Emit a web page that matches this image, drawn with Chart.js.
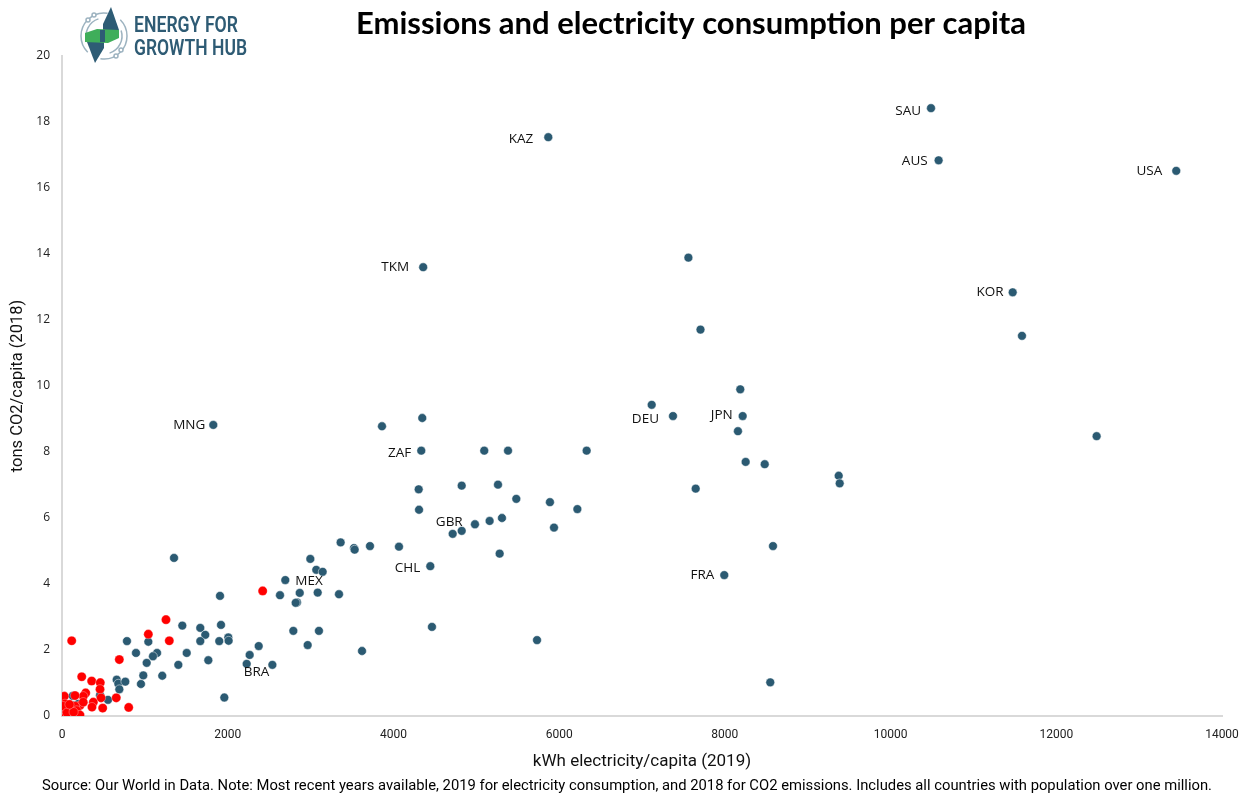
<!DOCTYPE html>
<html>
<head>
<meta charset="utf-8">
<script src="https://cdn.jsdelivr.net/npm/chart.js@4.4.1/dist/chart.umd.min.js"></script>
<style>
  html, body { margin: 0; padding: 0; background: #fff; }
  #wrap { width: 1259px; height: 795px; position: relative; }
</style>
</head>
<body>
<div id="wrap"><canvas id="c" width="1259" height="795"></canvas></div>
<script>
// ---------- DATA ----------
const chartTitle = 'Emissions and electricity consumption per capita';
const footnote = 'Source: Our World in Data. Note: Most recent years available, 2019 for electricity consumption, and 2018 for CO2 emissions. Includes all countries with population over one million.';
const xAxisTitle = 'kWh electricity/capita (2019)';
const yAxisTitle = 'tons CO2/capita (2018)';
const xTickValues = [0, 2000, 4000, 6000, 8000, 10000, 12000, 14000];
const yTickValues = [0, 2, 4, 6, 8, 10, 12, 14, 16, 18, 20];

// labelled countries (first entries of the blue series)
const countryCodes = ['SAU','AUS','USA','KAZ','TKM','KOR','MNG','ZAF','DEU','JPN','GBR','CHL','MEX','FRA','BRA'];

const blueX = [
  10488, 10580, 13448, 5869, 4359, 11474, 1826, 4336, 7374, 8215, 4824, 4445, 2695, 7993, 2229,
  7560, 7706, 11586, 8186, 7117, 8158, 12487, 8251, 8481, 9374, 9386, 7648, 8581, 8548,
  6332, 3862, 4348, 5096, 5383, 4305, 4824, 5262, 5483, 5889, 6220, 4309, 4984, 5161, 5310,
  4715, 5938, 5282, 3363, 3524, 3532, 3717, 4067, 2997, 3069, 3146, 2631, 2869, 3086, 3343,
  2836, 2820, 2792, 3101, 2965, 2374, 2265, 2539, 4465, 5733, 3621, 1959, 1352, 1907, 1452,
  1669, 1729, 1669, 1919, 1898, 2007, 2011, 1766, 1505, 1404, 1210, 1147, 1098, 1022, 953,
  981, 893, 784, 1042, 660, 680, 764, 692, 555, 129, 145, 197, 459
];
const blueY = [
  18.42, 16.84, 16.52, 17.54, 13.60, 12.84, 8.82, 8.04, 9.09, 9.09, 5.61, 4.54, 4.12, 4.27, 1.58,
  13.89, 11.71, 11.52, 9.90, 9.43, 8.63, 8.48, 7.70, 7.63, 7.28, 7.05, 6.89, 5.15, 1.02,
  8.04, 8.78, 9.03, 8.04, 8.04, 6.87, 6.98, 7.01, 6.58, 6.48, 6.27, 6.25, 5.81, 5.91, 6.00,
  5.52, 5.71, 4.92, 5.26, 5.09, 5.04, 5.15, 5.13, 4.76, 4.43, 4.37, 3.66, 3.73, 3.74, 3.69,
  3.44, 3.43, 2.58, 2.58, 2.15, 2.12, 1.85, 1.55, 2.70, 2.30, 1.97, 0.56, 4.79, 3.64, 2.74,
  2.67, 2.46, 2.27, 2.76, 2.27, 2.38, 2.28, 1.69, 1.91, 1.55, 1.22, 1.91, 1.81, 1.61, 0.97,
  1.23, 1.91, 2.27, 2.25, 1.10, 0.98, 1.04, 0.81, 0.49, 0.61, 0.32, 0.37, 0.63
];

const redX = [
  2422, 1255, 1042, 1295, 692, 117, 238, 358, 462, 459, 471, 286, 257, 157, 28, 655, 805, 491,
  378, 362, 217, 36, 157, 257, 5, 97, 177, 36, 117, 217, 5, 72, 12, 60, 140, 90
];
const redY = [
  3.79, 2.92, 2.48, 2.28, 1.71, 2.28, 1.19, 1.06, 1.01, 0.81, 0.55, 0.70, 0.60, 0.62, 0.60, 0.55, 0.26, 0.24,
  0.42, 0.27, 0.32, 0.37, 0.30, 0.42, 0.12, 0.07, 0.17, 0.03, 0.03, 0.03, 0.22, 0.24, 0.30, 0.10, 0.12, 0.35
];

// ---------- STYLE ----------
const BLUE = '#2B5A72';
const RED = '#FF0000';
// label offsets relative to its point: [dx, dy, align]
const labelOffsets = {
  SAU: [-10, 3, 'right'], AUS: [-11, 1, 'right'], USA: [-14, 0, 'right'], KAZ: [-15, 2, 'right'],
  TKM: [-14, 0, 'right'], KOR: [-9, 0, 'right'], MNG: [-8, 0, 'right'], ZAF: [-10, 2, 'right'],
  DEU: [-14, 3, 'right'], JPN: [-10, -1, 'right'], GBR: [1, -9, 'right'], CHL: [-10, 2, 'right'],
  MEX: [10, 1, 'left'], FRA: [-10, 0, 'right'], BRA: [-3, 8, 'left']
};

const toPts = (xs, ys) => xs.map((x, i) => ({ x: x, y: ys[i] }));

const labelPlugin = {
  id: 'countryLabels',
  afterDatasetsDraw(chart) {
    const meta = chart.getDatasetMeta(1);
    const ctx = chart.ctx;
    ctx.save();
    ctx.font = '13.5px "Open Sans", "Noto Sans", sans-serif';
    ctx.fillStyle = '#111';
    ctx.textBaseline = 'middle';
    countryCodes.forEach((code, i) => {
      const el = meta.data[i];
      if (!el) return;
      const o = labelOffsets[code];
      ctx.textAlign = o[2];
      ctx.fillText(code, el.x + o[0], el.y + o[1]);
    });
    ctx.restore();
  }
};

const decorPlugin = {
  id: 'decor',
  afterDraw(chart) {
    const ctx = chart.ctx;
    ctx.save();
    // title
    ctx.fillStyle = '#000';
    ctx.font = 'bold 31px "Lato", "Noto Sans", sans-serif';
    ctx.textAlign = 'center';
    ctx.textBaseline = 'alphabetic';
    ctx.fillText(chartTitle, 691, 34, 686);
    // footnote
    ctx.font = '15px "Roboto", sans-serif';
    ctx.textBaseline = 'middle';
    ctx.fillText(footnote, 627, 786, 1170);

    // logo icon
    const cx = 104, cy = 36;
    ctx.strokeStyle = '#9DB3C0';
    ctx.lineWidth = 1.5;
    ctx.beginPath(); ctx.arc(cx, cy, 23, Math.PI * 0.75, Math.PI * 1.55); ctx.stroke();
    ctx.beginPath(); ctx.arc(cx, cy, 23, Math.PI * 1.75, Math.PI * 2.55); ctx.stroke();
    ctx.beginPath(); ctx.arc(cx, cy, 18, Math.PI * 0.9, Math.PI * 1.4); ctx.stroke();
    ctx.beginPath(); ctx.arc(cx, cy, 18, Math.PI * 1.9, Math.PI * 2.4); ctx.stroke();
    ctx.fillStyle = '#fff';
    [[88, 20], [121, 50], [94, 15], [116, 56]].forEach(p => { ctx.beginPath(); ctx.arc(p[0], p[1], 2, 0, Math.PI * 2); ctx.fill(); ctx.stroke(); });
    // bolt
    ctx.fillStyle = '#2E5C75';
    ctx.beginPath();
    ctx.moveTo(111, 7); ctx.lineTo(119, 30); ctx.lineTo(103, 30); ctx.lineTo(103, 24); ctx.closePath(); ctx.fill();
    ctx.beginPath();
    ctx.moveTo(95, 63); ctx.lineTo(87, 42); ctx.lineTo(104, 42); ctx.lineTo(104, 48); ctx.closePath(); ctx.fill();
    ctx.fillStyle = '#3FAE5A';
    ctx.beginPath();
    ctx.moveTo(85, 33); ctx.lineTo(97, 29); ctx.lineTo(119, 30); ctx.lineTo(119, 38); ctx.lineTo(108, 43); ctx.lineTo(85, 42); ctx.closePath(); ctx.fill();
    ctx.fillStyle = '#2E5C75';
    ctx.fillRect(100, 30, 5, 12);

    // logo text
    ctx.fillStyle = '#2E5B74';
    ctx.textAlign = 'left';
    ctx.textBaseline = 'alphabetic';
    ctx.font = '600 22px "Roboto", "Liberation Sans", sans-serif';
    ctx.fillText('ENERGY FOR', 134, 32, 104);
    ctx.fillText('GROWTH HUB', 134, 55, 113);
    ctx.restore();
  }
};

new Chart(document.getElementById('c'), {
  type: 'scatter',
  data: {
    datasets: [
      {
        label: 'Low consumption',
        data: toPts(redX, redY),
        backgroundColor: RED,
        borderColor: 'rgba(255,255,255,0.6)',
        borderWidth: 0.5,
        pointRadius: 4.6,
        pointHoverRadius: 4.6
      },
      {
        label: 'Countries',
        data: toPts(blueX, blueY),
        backgroundColor: BLUE,
        borderColor: 'rgba(255,255,255,0.8)',
        borderWidth: 0.6,
        pointRadius: 4.4,
        pointHoverRadius: 4.4
      }
    ]
  },
  plugins: [labelPlugin, decorPlugin],
  options: {
    responsive: false,
    animation: false,
    devicePixelRatio: 1,
    layout: { padding: { top: 56, right: 37, bottom: 21, left: 0 } },
    plugins: { legend: { display: false }, tooltip: { enabled: false }, title: { display: false } },
    scales: {
      x: {
        type: 'linear',
        min: 0, max: 14000,
        afterBuildTicks: (s) => { s.ticks = xTickValues.map(v => ({ value: v })); },
        afterFit: (s) => { s.height = 58; },
        grid: { color: 'transparent', drawTicks: false },
        border: { display: true, color: '#D9D9D9', width: 2 },
        ticks: {
          padding: 12,
          color: '#222',
          callback: (v) => String(v),
          font: { family: '"Roboto", sans-serif', size: 12 },
          maxRotation: 0
        },
        title: {
          display: true, text: xAxisTitle, color: '#111',
          font: { family: '"Roboto", sans-serif', size: 17 },
          padding: { top: 0, bottom: 2 }
        }
      },
      y: {
        type: 'linear',
        min: 0, max: 20,
        afterBuildTicks: (s) => { s.ticks = yTickValues.map(v => ({ value: v })); },
        afterFit: (s) => { s.width = 62; },
        grid: { color: 'transparent', drawTicks: false },
        border: { display: true, color: '#D9D9D9', width: 2 },
        ticks: {
          padding: 12,
          color: '#222',
          callback: (v) => String(v),
          font: { family: '"Open Sans", "Noto Sans", sans-serif', size: 12 }
        },
        title: {
          display: true, text: yAxisTitle, color: '#111',
          font: { family: '"Roboto", sans-serif', size: 16.5 },
          padding: { top: 8, bottom: 0 }
        }
      }
    }
  }
});
</script>
</body>
</html>
